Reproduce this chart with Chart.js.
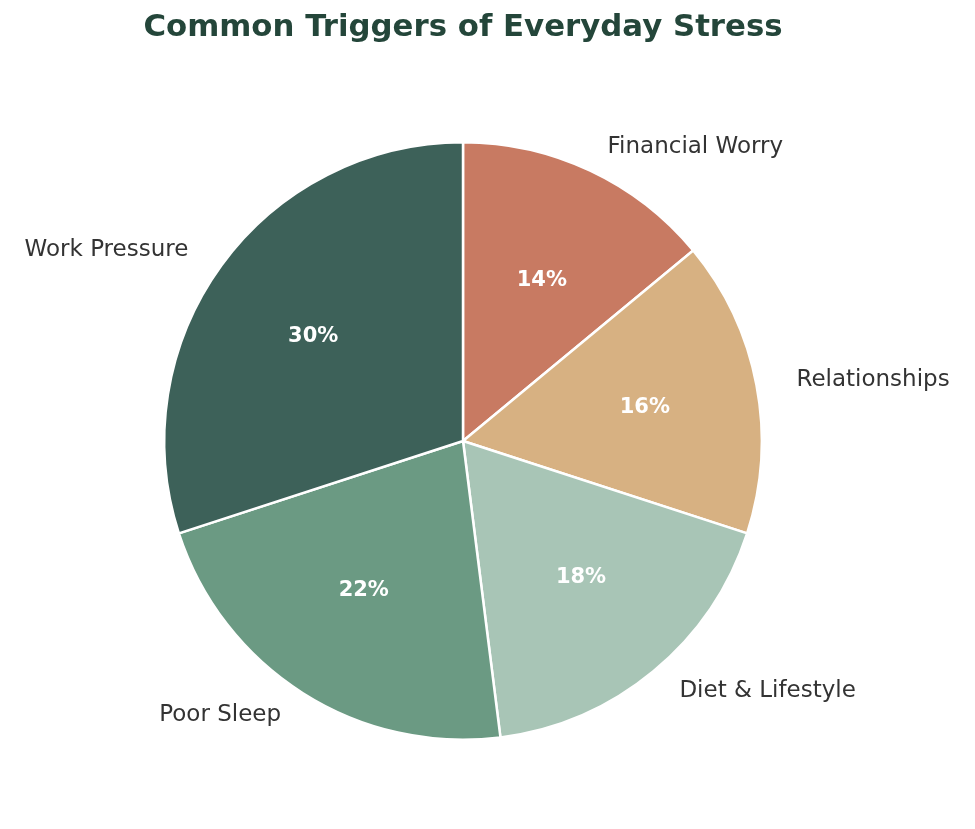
<!DOCTYPE html>
<html>
<head>
<meta charset="utf-8">
<script src="https://cdn.jsdelivr.net/npm/chart.js@4"></script>
<style>
  html, body { margin: 0; padding: 0; background: #ffffff; }
  #wrap { width: 975px; height: 829px; }
</style>
</head>
<body>
<div id="wrap"><canvas id="pieChart"></canvas></div>
<script>
// data, clockwise from 12 o'clock
const categories = ['Financial Worry', 'Relationships', 'Diet & Lifestyle', 'Poor Sleep', 'Work Pressure'];
const shares = [14, 16, 18, 22, 30];
const sliceColors = ['#c87a62', '#d7b182', '#a8c5b6', '#6b9a83', '#3d6159'];
const chartTitle = 'Common Triggers of Everyday Stress';

// labels outside + percentages inside, matplotlib style
// (reference is a bit wider than tall, so x/y offsets are scaled a little)
const sliceLabels = {
    id: 'sliceLabels',
    afterDatasetsDraw(chart) {
        const ctx = chart.ctx;
        const meta = chart.getDatasetMeta(0);
        const total = shares.reduce((a, b) => a + b, 0);
        const sx = 1.033, sy = 0.987;
        meta.data.forEach((arc, i) => {
            const p = arc.getProps(['x', 'y', 'startAngle', 'endAngle', 'outerRadius'], true);
            const mid = (p.startAngle + p.endAngle) / 2;
            const cos = Math.cos(mid), sin = Math.sin(mid);
            const r = p.outerRadius;

            ctx.save();
            ctx.textBaseline = 'middle';
            ctx.font = '23px "DejaVu Sans"';
            ctx.fillStyle = '#333333';
            ctx.textAlign = cos >= 0 ? 'left' : 'right';
            ctx.fillText(categories[i], p.x + cos * r * 1.1 * sx, p.y + sin * r * 1.1 * sy);

            ctx.font = 'bold 21px "DejaVu Sans"';
            ctx.fillStyle = '#ffffff';
            ctx.textAlign = 'center';
            const pct = Math.round(shares[i] / total * 100) + '%';
            ctx.fillText(pct, p.x + cos * r * 0.6 * sx, p.y + sin * r * 0.6 * sy);
            ctx.restore();
        });

        // title drawn here so it isn't squeezed by the side padding
        ctx.save();
        ctx.font = 'bold 30.8px "DejaVu Sans"';
        ctx.fillStyle = '#24463a';
        ctx.textAlign = 'center';
        ctx.textBaseline = 'middle';
        ctx.fillText(chartTitle, meta.data[0].x, 28);
        ctx.restore();
    }
};

const ctx = document.getElementById('pieChart').getContext('2d');
new Chart(ctx, {
    type: 'pie',
    data: {
        labels: categories,
        datasets: [{
            data: shares,
            backgroundColor: sliceColors,
            borderColor: '#ffffff',
            borderWidth: 2.5
        }]
    },
    options: {
        responsive: true,
        maintainAspectRatio: false,
        animation: false,
        layout: {
            padding: { top: 141, left: 163, right: 212, bottom: 88 }
        },
        plugins: {
            legend: { display: false },
            tooltip: { enabled: false },
            title: { display: false }
        }
    },
    plugins: [sliceLabels]
});
</script>
</body>
</html>
